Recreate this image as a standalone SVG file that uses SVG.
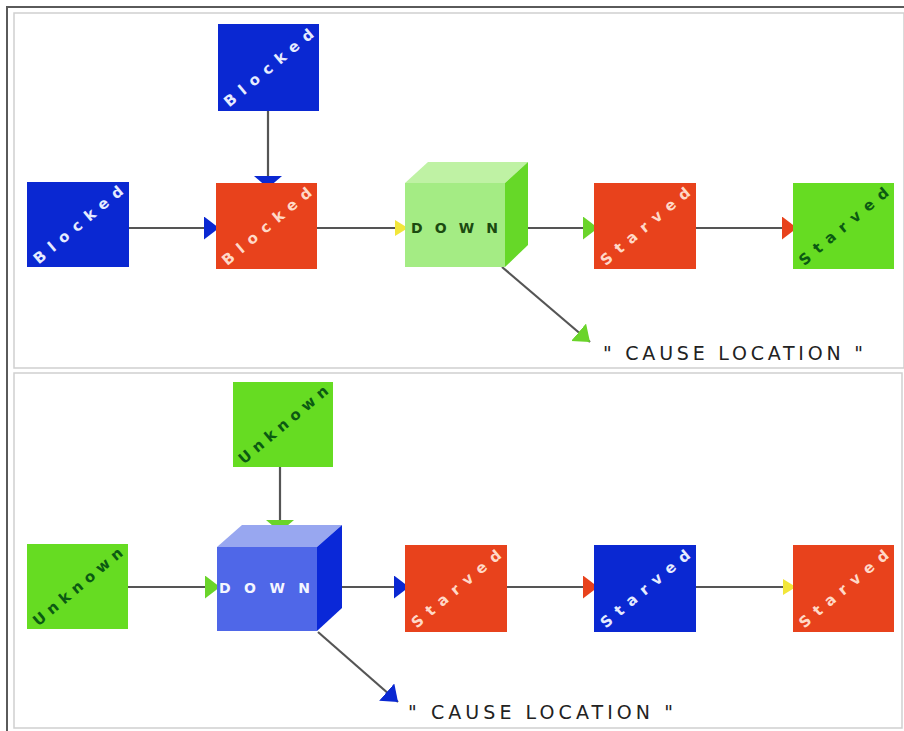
<svg xmlns="http://www.w3.org/2000/svg" width="904" height="731" viewBox="0 0 904 731">
<style>
.frame{fill:none;stroke:#5a5a5a;stroke-width:2}
.panel{fill:#ffffff;stroke:#cfcfcf;stroke-width:1.5}
.blue{fill:#0a28d2}
.red{fill:#e8421c}
.green{fill:#66dc22}
.lbl{font-family:"DejaVu Sans",Verdana,sans-serif;font-size:15px;font-weight:bold;text-anchor:middle}
.lw{fill:#e6ecff}
.lp{fill:#ffd9c8}
.lg{fill:#0b5a12}
.down{font-family:"DejaVu Sans",Verdana,sans-serif;font-size:14px;font-weight:bold}
.cause{font-family:"DejaVu Sans",Verdana,sans-serif;font-size:19px;fill:#222}
.conn line{stroke:#555;stroke-width:2.2}
</style>
<defs>
<marker id="aBlue" markerUnits="userSpaceOnUse" markerWidth="16" markerHeight="24" refX="15" refY="11.5" orient="auto"><path d="M0,0 L15,11.5 L0,23 z" fill="#0a28d2"/></marker>
<marker id="aYellow" markerUnits="userSpaceOnUse" markerWidth="16" markerHeight="24" refX="13" refY="10" orient="auto"><path d="M0,2 L13,10 L0,18 z" fill="#f2e63a"/></marker>
<marker id="aGreen" markerUnits="userSpaceOnUse" markerWidth="16" markerHeight="24" refX="15" refY="11.5" orient="auto"><path d="M0,0 L15,11.5 L0,23 z" fill="#6ad42a"/></marker>
<marker id="aRed" markerUnits="userSpaceOnUse" markerWidth="16" markerHeight="24" refX="15" refY="11.5" orient="auto"><path d="M0,0 L15,11.5 L0,23 z" fill="#e8421c"/></marker>
<marker id="aBlueV" markerUnits="userSpaceOnUse" markerWidth="14" markerHeight="30" refX="12" refY="14" orient="auto"><path d="M0,0 L12,14 L0,28 z" fill="#0a28d2"/></marker>
<marker id="aGreenV" markerUnits="userSpaceOnUse" markerWidth="14" markerHeight="30" refX="12" refY="14" orient="auto"><path d="M0,0 L12,14 L0,28 z" fill="#6ad42a"/></marker>
</defs>
<rect width="904" height="731" fill="#ffffff"/>
<path class="frame" d="M7,731 L7,7 L904,7"/>
<rect class="panel" x="14" y="13" width="890" height="355"/>
<rect class="panel" x="14" y="373" width="888" height="355"/>

<g id="connectors" class="conn">
<line x1="268" y1="111" x2="268" y2="188" marker-end="url(#aBlueV)"/>
<line x1="129" y1="228" x2="219" y2="228" marker-end="url(#aBlue)"/>
<line x1="317" y1="228" x2="408" y2="228" marker-end="url(#aYellow)"/>
<line x1="528" y1="228" x2="598" y2="228" marker-end="url(#aGreen)"/>
<line x1="696" y1="228" x2="797" y2="228" marker-end="url(#aRed)"/>
<line x1="502" y1="267" x2="590" y2="342" marker-end="url(#aGreen)"/>
<line x1="280" y1="467" x2="280" y2="532" marker-end="url(#aGreenV)"/>
<line x1="128" y1="587" x2="220" y2="587" marker-end="url(#aGreen)"/>
<line x1="342" y1="587" x2="409" y2="587" marker-end="url(#aBlue)"/>
<line x1="507" y1="587" x2="598" y2="587" marker-end="url(#aRed)"/>
<line x1="696" y1="587" x2="796" y2="587" marker-end="url(#aYellow)"/>
<line x1="318" y1="632" x2="398" y2="702" marker-end="url(#aBlue)"/>
</g>

<g id="top-blocked-up">
<rect class="blue" x="218" y="24" width="101" height="87"/>
<text class="lbl lw" x="268.5" y="73" textLength="112" lengthAdjust="spacing" transform="rotate(-40 268.5 67.5)">Blocked</text>
</g>
<g id="top-blocked-left">
<rect class="blue" x="27" y="182" width="102" height="85"/>
<text class="lbl lw" x="78" y="230" textLength="112" lengthAdjust="spacing" transform="rotate(-40 78 224.5)">Blocked</text>
</g>
<g id="top-blocked-mid">
<rect class="red" x="216" y="183" width="101" height="86"/>
<text class="lbl lp" x="266.5" y="231.5" textLength="112" lengthAdjust="spacing" transform="rotate(-40 266.5 226)">Blocked</text>
</g>
<g id="top-down">
<polygon points="405,183 428,162 528,162 505,183" fill="#bff2a4"/>
<polygon points="505,183 528,162 528,245 505,267" fill="#66d828"/>
<rect x="405" y="183" width="100" height="84" fill="#a4ec84"/>
<text class="down" x="411" y="233" fill="#1b4a10" textLength="87" lengthAdjust="spacing">DOWN</text>
</g>
<g id="top-starved-1">
<rect class="red" x="594" y="183" width="102" height="86"/>
<text class="lbl lp" x="645" y="231.5" textLength="112" lengthAdjust="spacing" transform="rotate(-40 645 226)">Starved</text>
</g>
<g id="top-starved-2">
<rect class="green" x="793" y="183" width="101" height="86"/>
<text class="lbl lg" x="843.5" y="231.5" textLength="112" lengthAdjust="spacing" transform="rotate(-40 843.5 226)">Starved</text>
</g>
<g id="top-cause">
<text class="cause" x="603" y="360" textLength="260" lengthAdjust="spacing">" CAUSE LOCATION "</text>
</g>

<g id="bot-unknown-up">
<rect class="green" x="233" y="382" width="100" height="85"/>
<text class="lbl lg" x="283" y="430" textLength="112" lengthAdjust="spacing" transform="rotate(-40 283 424.5)">Unknown</text>
</g>
<g id="bot-unknown-left">
<rect class="green" x="27" y="544" width="101" height="85"/>
<text class="lbl lg" x="77.5" y="592" textLength="112" lengthAdjust="spacing" transform="rotate(-40 77.5 586.5)">Unknown</text>
</g>
<g id="bot-down">
<polygon points="217,547 242,525 342,525 317,547" fill="#98a7f0"/>
<polygon points="317,547 342,525 342,608 317,631" fill="#0a28d8"/>
<rect x="217" y="547" width="100" height="84" fill="#4f67e8"/>
<text class="down" x="219" y="593" fill="#f4f6ff" textLength="91" lengthAdjust="spacing">DOWN</text>
</g>
<g id="bot-starved-1">
<rect class="red" x="405" y="545" width="102" height="87"/>
<text class="lbl lp" x="456" y="594" textLength="112" lengthAdjust="spacing" transform="rotate(-40 456 588.5)">Starved</text>
</g>
<g id="bot-starved-2">
<rect class="blue" x="594" y="545" width="102" height="87"/>
<text class="lbl lw" x="645" y="594" textLength="112" lengthAdjust="spacing" transform="rotate(-40 645 588.5)">Starved</text>
</g>
<g id="bot-starved-3">
<rect class="red" x="793" y="545" width="101" height="87"/>
<text class="lbl lp" x="843.5" y="594" textLength="112" lengthAdjust="spacing" transform="rotate(-40 843.5 588.5)">Starved</text>
</g>
<g id="bot-cause">
<text class="cause" x="408" y="719" textLength="265" lengthAdjust="spacing">" CAUSE LOCATION "</text>
</g>
</svg>
